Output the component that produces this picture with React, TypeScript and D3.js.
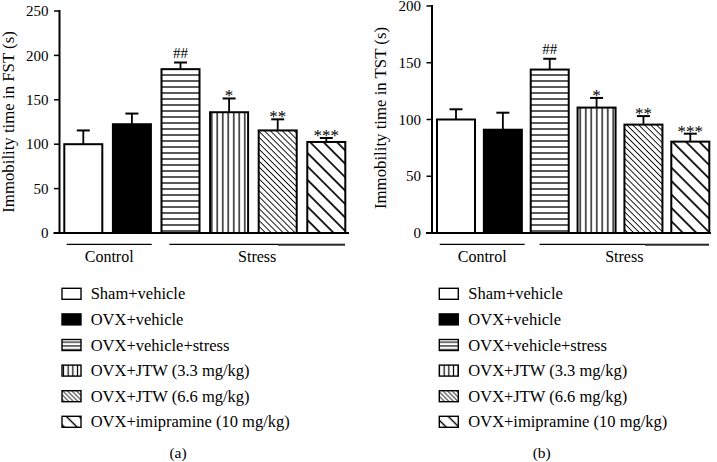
import React from "react";
import * as d3 from "d3";

const categories = [
  "Sham+vehicle",
  "OVX+vehicle",
  "OVX+vehicle+stress",
  "OVX+JTW (3.3 mg/kg)",
  "OVX+JTW (6.6 mg/kg)",
  "OVX+imipramine (10 mg/kg)",
];
const fills = ["white", "black", "url(#hl)", "url(#vl)", "url(#dt)", "url(#dk)"];
const legendFills = ["white", "black", "url(#hlL)", "url(#vlL)", "url(#dtL)", "url(#dkL)"];

const fstMeans = [100, 122.5, 184.5, 136, 115.5, 102.5];
const fstErrors = [15.5, 12, 7.5, 15.5, 12.5, 4.5];
const tstMeans = [100, 91, 144, 110.5, 95.5, 80.5];
const tstErrors = [9, 15, 9.5, 8.5, 7.5, 7];
const sigLabels = ["", "", "##", "*", "**", "***"];
const fstTicks = [0, 50, 100, 150, 200, 250];
const tstTicks = [0, 50, 100, 150, 200];
const groupLabels = ["Control", "Stress"];
const panelLabels = ["(a)", "(b)"];

const FONT = "'Liberation Serif', 'Times New Roman', serif";

type PanelProps = {
  means: number[];
  errors: number[];
  ticks: number[];
  yMax: number;
  yTop: number;
  axisX: number;
  barStart: number;
  barEnd: number;
  pad: number;
  axisLabel: string;
  labelX: number;
  labelY: number;
  baseEnd: number;
  controlLine: [number, number];
  stressLine: [number, number];
  thickSeg: [number, number];
  legendBoxX: number;
  legendTextX: number;
  panelLabel: string;
  panelLabelX: number;
};

function Panel(p: PanelProps) {
  const y = d3.scaleLinear().domain([0, p.yMax]).range([233, p.yTop]);
  const x = d3
    .scaleBand<string>()
    .domain(categories)
    .range([p.barStart, p.barEnd])
    .paddingInner(p.pad)
    .paddingOuter(0);
  const bw = x.bandwidth();
  const cap = 13;
  const legendBase = 299.3;
  const legendStep = 25.6;
  return (
    <g>
      {categories.map((c, i) => {
        const x0 = x(c)!;
        const top = y(p.means[i]);
        const et = y(p.means[i] + p.errors[i]);
        const cx = x0 + bw / 2;
        const isHash = sigLabels[i].includes("#");
        return (
          <g key={c}>
            <line x1={cx} x2={cx} y1={top} y2={et} stroke="black" strokeWidth={1.8} />
            <line x1={cx - cap / 2} x2={cx + cap / 2} y1={et} y2={et} stroke="black" strokeWidth={2} />
            <rect
              x={x0}
              y={top}
              width={bw}
              height={233 - top}
              fill={fills[i]}
              stroke="black"
              strokeWidth={2}
            />
            {sigLabels[i] && (
              <text
                x={cx}
                y={isHash ? et - 4.5 : et + 3}
                textAnchor="middle"
                fontFamily={FONT}
                fontSize={isHash ? 15 : 17}
              >
                {sigLabels[i]}
              </text>
            )}
          </g>
        );
      })}
      <line x1={p.axisX} x2={p.axisX} y1={y(p.yMax) - 1} y2={234} stroke="black" strokeWidth={2} />
      {p.ticks.map((t) => (
        <g key={t}>
          <line x1={p.axisX - 5.5} x2={p.axisX} y1={y(t)} y2={y(t)} stroke="black" strokeWidth={1.5} />
          <text
            x={p.axisX - 11}
            y={y(t)}
            dy="0.34em"
            textAnchor="end"
            fontFamily={FONT}
            fontSize={15}
          >
            {t}
          </text>
        </g>
      ))}
      <line x1={p.axisX - 6} x2={p.baseEnd} y1={233} y2={233} stroke="black" strokeWidth={2} />
      <text
        transform={`translate(${p.labelX},${p.labelY}) rotate(-90)`}
        textAnchor="middle"
        fontFamily={FONT}
        fontSize={16.8}
      >
        {p.axisLabel}
      </text>
      <line x1={p.controlLine[0]} x2={p.controlLine[1]} y1={244.3} y2={244.3} stroke="black" strokeWidth={1.3} />
      <line x1={p.stressLine[0]} x2={p.stressLine[1]} y1={244.3} y2={244.3} stroke="black" strokeWidth={1.3} />
      <line x1={p.thickSeg[0]} x2={p.thickSeg[1]} y1={245} y2={245} stroke="#333" strokeWidth={1.6} />
      <text
        x={(p.controlLine[0] + p.controlLine[1]) / 2}
        y={262}
        textAnchor="middle"
        fontFamily={FONT}
        fontSize={16}
      >
        {groupLabels[0]}
      </text>
      <text
        x={(p.stressLine[0] + p.stressLine[1]) / 2}
        y={262}
        textAnchor="middle"
        fontFamily={FONT}
        fontSize={16}
      >
        {groupLabels[1]}
      </text>
      {categories.map((c, i) => {
        const b = legendBase + i * legendStep;
        return (
          <g key={"lg" + c}>
            <rect
              x={p.legendBoxX}
              y={b - 11}
              width={19}
              height={11}
              fill={legendFills[i]}
              stroke="black"
              strokeWidth={1.4}
            />
            <text x={p.legendTextX} y={b} fontFamily={FONT} fontSize={16.5}>
              {c}
            </text>
          </g>
        );
      })}
      <text x={p.panelLabelX} y={458} textAnchor="middle" fontFamily={FONT} fontSize={15.5}>
        {p.panelLabel}
      </text>
    </g>
  );
}

function HPattern({ id, gap, sw }: { id: string; gap: number; sw: number }) {
  return (
    <pattern id={id} patternUnits="userSpaceOnUse" width={8} height={gap}>
      <rect width={8} height={gap} fill="white" />
      <line x1={0} x2={8} y1={gap / 2} y2={gap / 2} stroke="black" strokeWidth={sw} />
    </pattern>
  );
}
function VPattern({ id, gap, sw }: { id: string; gap: number; sw: number }) {
  return (
    <pattern id={id} patternUnits="userSpaceOnUse" width={gap} height={8}>
      <rect width={gap} height={8} fill="white" />
      <line x1={gap / 2} x2={gap / 2} y1={0} y2={8} stroke="black" strokeWidth={sw} />
    </pattern>
  );
}
function DPattern({ id, gap, sw }: { id: string; gap: number; sw: number }) {
  return (
    <pattern
      id={id}
      patternUnits="userSpaceOnUse"
      width={gap}
      height={gap}
      patternTransform="rotate(-45)"
    >
      <rect width={gap} height={gap} fill="white" />
      <line x1={gap / 2} x2={gap / 2} y1={0} y2={gap} stroke="black" strokeWidth={sw} />
    </pattern>
  );
}

export default function App() {
  return (
    <svg
      width={717}
      height={462}
      style={{ position: "absolute", left: 0, top: 0, background: "white" }}
    >
      <defs>
        <HPattern id="hl" gap={6} sw={1.3} />
        <VPattern id="vl" gap={5.5} sw={1.3} />
        <DPattern id="dt" gap={4.2} sw={0.9} />
        <DPattern id="dk" gap={9.5} sw={1.7} />
        <HPattern id="hlL" gap={3.7} sw={1.1} />
        <VPattern id="vlL" gap={4.7} sw={1.2} />
        <DPattern id="dtL" gap={3.2} sw={0.8} />
        <DPattern id="dkL" gap={9} sw={1.4} />
      </defs>
      <rect width={717} height={462} fill="white" />
      <Panel
        means={fstMeans}
        errors={fstErrors}
        ticks={fstTicks}
        yMax={250}
        yTop={11}
        axisX={59.5}
        barStart={64.3}
        barEnd={345.3}
        pad={0.218}
        axisLabel="Immobility time in FST (s)"
        labelX={13.5}
        labelY={122}
        baseEnd={349}
        controlLine={[66.7, 151.7]}
        stressLine={[169.3, 345]}
        thickSeg={[278, 345]}
        legendBoxX={62}
        legendTextX={90.7}
        panelLabel={panelLabels[0]}
        panelLabelX={178}
      />
      <Panel
        means={tstMeans}
        errors={tstErrors}
        ticks={tstTicks}
        yMax={200}
        yTop={6}
        axisX={432}
        barStart={437}
        barEnd={709.3}
        pad={0.189}
        axisLabel="Immobility time in TST (s)"
        labelX={386}
        labelY={118}
        baseEnd={711}
        controlLine={[439.7, 524.7]}
        stressLine={[539.5, 709]}
        thickSeg={[645, 709]}
        legendBoxX={439.3}
        legendTextX={468.3}
        panelLabel={panelLabels[1]}
        panelLabelX={541.7}
      />
    </svg>
  );
}
